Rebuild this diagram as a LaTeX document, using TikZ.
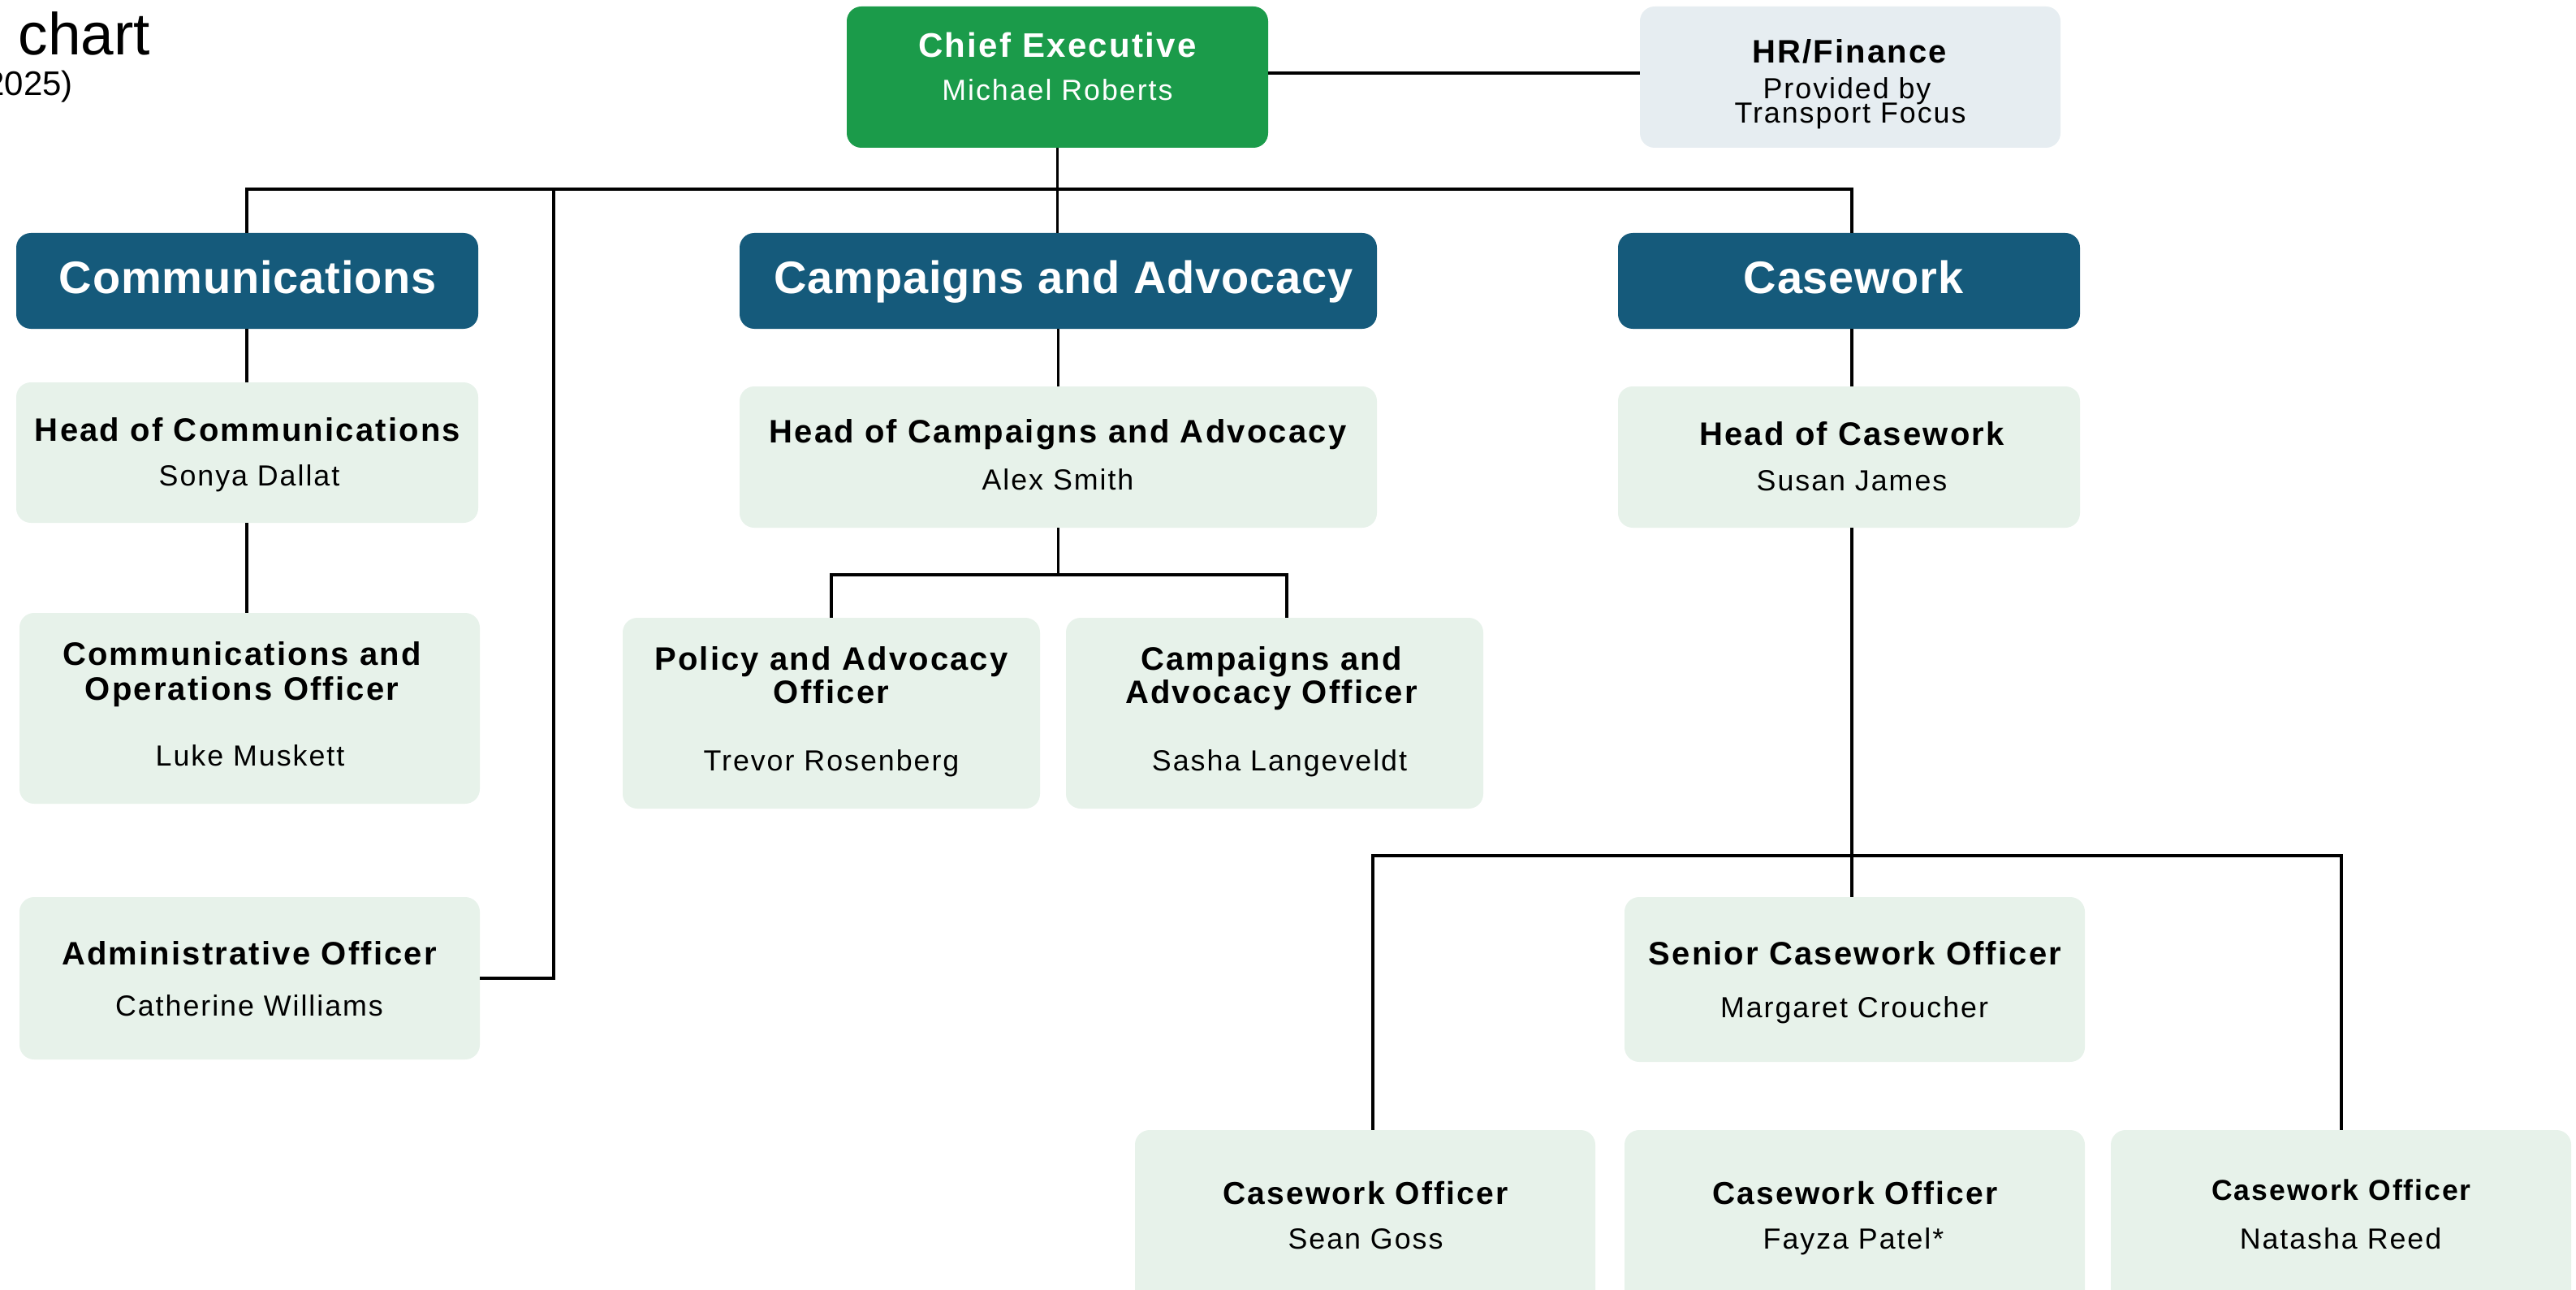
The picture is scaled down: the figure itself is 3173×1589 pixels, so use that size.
\documentclass[tikz,border=0pt]{standalone}
\usepackage{fontspec}
\setmainfont{Liberation Sans}
\newfontfamily\lsfont{Liberation Sans}[LetterSpace=5.5]
\newfontfamily\hdfont{Liberation Sans}[LetterSpace=1.5]
\definecolor{ceGreen}{RGB}{27,155,74}
\definecolor{hdBlue}{RGB}{21,90,123}
\definecolor{boxGreen}{RGB}{231,242,234}
\definecolor{boxGrey}{RGB}{230,237,241}
\begin{document}
\begin{tikzpicture}[x=1pt,y=-1pt,
  box/.style={rectangle, rounded corners=18pt, inner sep=0pt, draw=none},
  lbox/.style={box, fill=boxGreen},
  hbox/.style={box, fill=hdBlue},
  ttl/.style={inner sep=0pt, anchor=base, font=\lsfont\bfseries\fontsize{40}{48}\selectfont},
  nm/.style={inner sep=0pt, anchor=base, font=\lsfont\fontsize{35.8}{42}\selectfont},
  hdr/.style={inner sep=0pt, anchor=base, text=white, font=\hdfont\bfseries\fontsize{56}{64}\selectfont},
  conn/.style={line width=3.7pt, black}]
\useasboundingbox (0,0) rectangle (3173,1589);

% title (partly off the page)
\node[inner sep=0pt, anchor=base east, font=\fontsize{73}{80}\selectfont] (title) at (185,68) {chart};
\node[inner sep=0pt, anchor=base east, font=\fontsize{42}{48}\selectfont] (year) at (90,118) {2025)};

% boxes
\node[box, fill=ceGreen, minimum width=519pt, minimum height=174pt] (CE) at (1302.5,95) {};
\node[box, fill=boxGrey, minimum width=518pt, minimum height=174pt] (HR) at (2279,95) {};
\node[hbox, minimum width=569pt, minimum height=118pt] (CommsH) at (304.5,346) {};
\node[hbox, minimum width=785pt, minimum height=118pt] (CampH) at (1303.5,346) {};
\node[hbox, minimum width=569pt, minimum height=118pt] (CaseH) at (2277.5,346) {};
\node[lbox, minimum width=569pt, minimum height=173pt] (HeadComms) at (304.5,557.5) {};
\node[lbox, minimum width=567pt, minimum height=235pt] (CommsOps) at (307.5,872.5) {};
\node[lbox, minimum width=567pt, minimum height=200pt] (Admin) at (307.5,1205) {};
\node[lbox, minimum width=785pt, minimum height=174pt] (HeadCA) at (1303.5,563) {};
\node[lbox, minimum width=514pt, minimum height=235pt] (Policy) at (1024,878.5) {};
\node[lbox, minimum width=514pt, minimum height=235pt] (CAO) at (1570,878.5) {};
\node[lbox, minimum width=569pt, minimum height=174pt] (HeadCase) at (2277.5,563) {};
\node[lbox, minimum width=567pt, minimum height=203pt] (Senior) at (2284.5,1206.5) {};
\node[lbox, minimum width=567pt, minimum height=228pt] (CO1) at (1681.5,1506) {};
\node[lbox, minimum width=567pt, minimum height=228pt] (CO2) at (2284.5,1506) {};
\node[lbox, minimum width=567pt, minimum height=228pt] (CO3) at (2883.5,1506) {};

% texts
\node[ttl, text=white, font=\lsfont\bfseries\fontsize{42}{48}\selectfont] (ceT) at (1302.5,71) {Chief Executive};
\node[nm, text=white] (ceN) at (1302.5,124) {Michael Roberts};
\node[ttl] (hrT) at (2278,78) {HR/Finance};
\node[nm] (hrN1) at (2275,122) {Provided by};
\node[nm] (hrN2) at (2279,152) {Transport Focus};

\node[hdr] (commsT) at (305.5,362) {Communications};
\node[hdr] (campT) at (1310,362) {Campaigns and Advocacy};
\node[hdr] (caseT) at (2283,362) {Casework};

\node[ttl] (hcT) at (305,543) {Head of Communications};
\node[nm] (hcN) at (307,598) {Sonya Dallat};
\node[ttl] (coT1) at (298,819) {Communications and};
\node[ttl] (coT2) at (298,862) {Operations Officer};
\node[nm] (coN) at (308,943) {Luke Muskett};
\node[ttl] (adT) at (307,1188) {Administrative Officer};
\node[nm] (adN) at (307,1251) {Catherine Williams};

\node[ttl] (hcaT) at (1303,545) {Head of Campaigns and Advocacy};
\node[nm] (hcaN) at (1303,603) {Alex Smith};
\node[ttl] (paT1) at (1024,825) {Policy and Advocacy};
\node[ttl] (paT2) at (1024,866) {Officer};
\node[nm] (paN) at (1024,949) {Trevor Rosenberg};
\node[ttl] (caoT1) at (1566,825) {Campaigns and};
\node[ttl] (caoT2) at (1566,866) {Advocacy Officer};
\node[nm] (caoN) at (1576,949) {Sasha Langeveldt};

\node[ttl] (hcwT) at (2281,548) {Head of Casework};
\node[nm] (hcwN) at (2281,604) {Susan James};
\node[ttl] (scT) at (2285,1188) {Senior Casework Officer};
\node[nm] (scN) at (2284,1253) {Margaret Croucher};
\node[ttl, font=\lsfont\bfseries\fontsize{39}{46}\selectfont] (c1T) at (1682,1483) {Casework Officer};
\node[nm] (c1N) at (1682,1538) {Sean Goss};
\node[ttl, font=\lsfont\bfseries\fontsize{39}{46}\selectfont] (c2T) at (2285,1483) {Casework Officer};
\node[nm] (c2N) at (2283,1538) {Fayza Patel*};
\node[ttl, font=\lsfont\bfseries\fontsize{35.5}{42}\selectfont] (c3T) at (2884,1478) {Casework Officer};
\node[nm] (c3N) at (2883,1538) {Natasha Reed};

% connector helper coordinates
\coordinate (hry) at (0,90);
\coordinate (bus) at (0,233);
\coordinate (adminX) at (682,233);
\coordinate (cabus) at (0,708);
\coordinate (caR) at (1585,0);
\coordinate (cx) at (2281,0);
\coordinate (cwbus) at (0,1054);
\coordinate (d1) at (1691,0);
\coordinate (d3) at (2884,0);
\coordinate (commsX) at (304,0);

% connectors
\draw[conn] (CE.east |- hry) -- (HR.west |- hry);
\draw[conn] (CE.south) -- (CE.south |- CampH.north);
\draw[conn] (commsX |- CommsH.north) -- (commsX |- bus) -- (cx |- bus) -- (cx |- CaseH.north);
\draw[conn] (Admin.east) -| (adminX);
\draw[conn] (commsX |- CommsH.south) -- (commsX |- HeadComms.north);
\draw[conn] (commsX |- HeadComms.south) -- (commsX |- CommsOps.north);
\draw[conn] (CampH.south) -- (CampH.south |- HeadCA.north);
\draw[conn] (HeadCA.south) -- (HeadCA.south |- cabus);
\draw[conn] (Policy.north) -- (Policy.north |- cabus) -- (caR |- cabus) -- (caR |- CAO.north);
\draw[conn] (cx |- CaseH.south) -- (cx |- HeadCase.north);
\draw[conn] (cx |- HeadCase.south) -- (cx |- Senior.north);
\draw[conn] (d1 |- CO1.north) -- (d1 |- cwbus) -- (d3 |- cwbus) -- (d3 |- CO3.north);
\end{tikzpicture}
\end{document}
